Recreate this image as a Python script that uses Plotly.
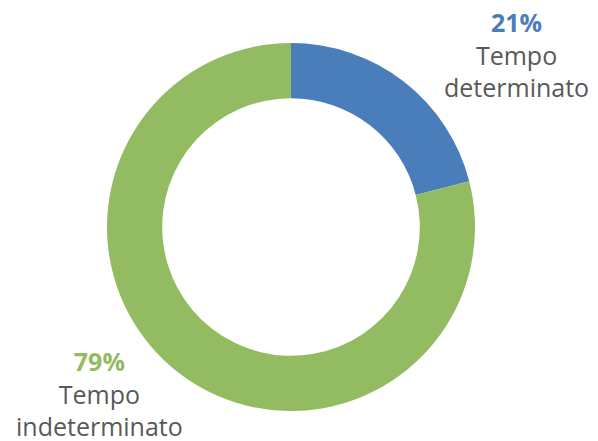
import plotly.graph_objects as go

labels = ["Tempo determinato", "Tempo indeterminato"]
values = [21, 79]
colors = ["#4a7ebb", "#93bb62"]
label_lines = [["Tempo", "determinato"], ["Tempo", "indeterminato"]]

W, H = 598, 441

fig = go.Figure(go.Pie(
    labels=labels,
    values=values,
    hole=0.70,
    sort=False,
    direction="clockwise",
    rotation=0,
    marker=dict(colors=colors, line=dict(width=0)),
    textinfo="none",
    hoverinfo="label+percent",
    showlegend=False,
    domain=dict(x=[107 / W, 475 / W], y=[30 / H, 398 / H]),
))

font = "Open Sans"
grey = "#595959"

# label block centres, in pixels from top-left
pos = [(516, 54), (99, 393)]
for (x, y), v, c, lines in zip(pos, values, colors, label_lines):
    txt = f"<span style='color:{c}'><b>{v}%</b></span><br>" + "<br>".join(lines)
    fig.add_annotation(
        x=x / W, y=1 - y / H, xref="paper", yref="paper",
        text=txt, showarrow=False, xanchor="center", yanchor="middle",
        align="center",
        font=dict(family=font, size=25, color=grey),
    )

fig.update_layout(
    width=W, height=H,
    margin=dict(l=0, r=0, t=0, b=0),
    paper_bgcolor="white",
    plot_bgcolor="white",
)

fig.write_html("out.html", config={"displayModeBar": False},
               post_script="document.body.style.margin='0';")
